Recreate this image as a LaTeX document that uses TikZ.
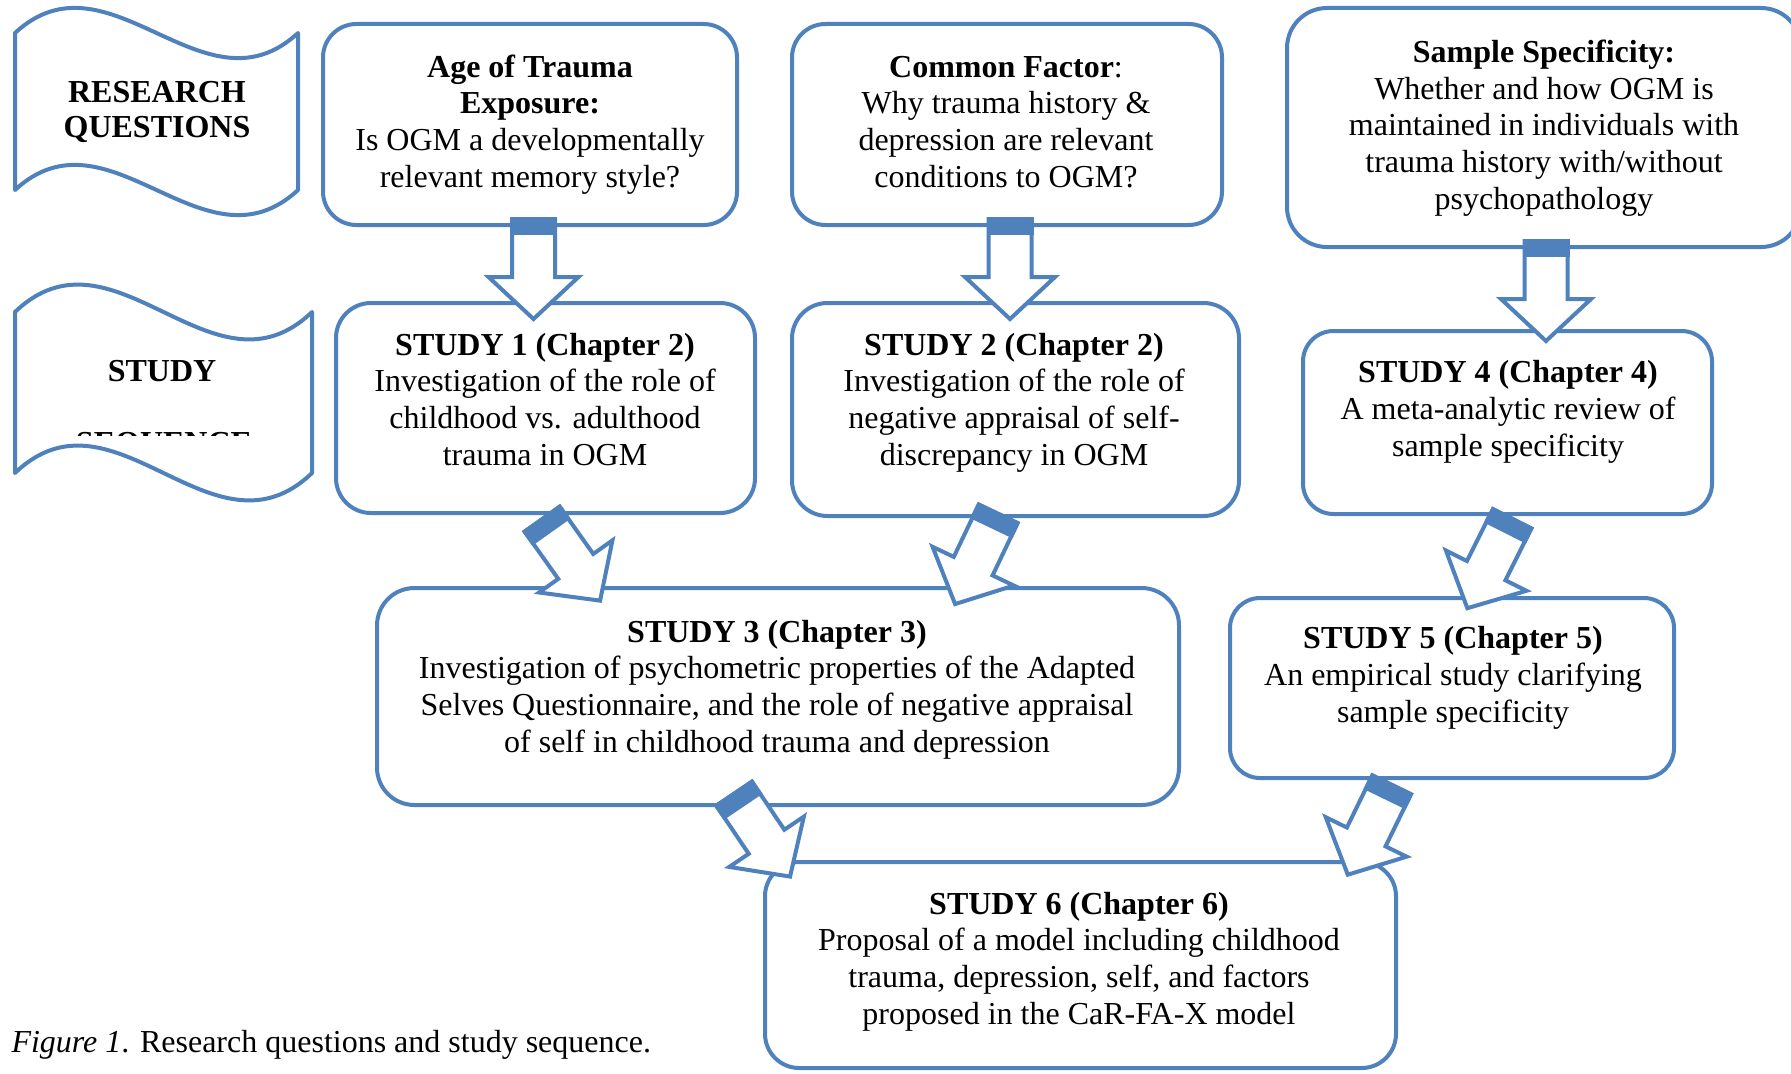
\documentclass[tikz,border=0pt]{standalone}
\usepackage{fontspec}
\setmainfont{Liberation Serif}
\definecolor{wblue}{RGB}{79,129,189}
\tikzset{
  box/.style n args={3}{draw=wblue, line width=1.6pt, fill=white, rounded corners=#3,
    minimum width=#1, minimum height=#2, inner sep=0pt},
  txt/.style={anchor=base, align=center, inner sep=0pt, font=\fontsize{12.8}{14.65}\selectfont},
  wave/.style={draw=wblue, line width=1.6pt, line join=round, fill=white},
  blockarrow/.pic={
    \draw[draw=wblue, line width=1.6pt, fill=white, line join=miter]
      (2,-21.5) -- (60,-21.5) -- (60,-45) -- (102,0) -- (60,45) -- (60,21.5) -- (2,21.5) -- cycle;
    \fill[wblue] (0,-23.5) rectangle (18,23.5);
  }
}
\begin{document}
\begin{tikzpicture}[x=0.4pt, y=-0.4pt]
\clip (0,0) rectangle (1791,1073);
\fill[white] (0,0) rectangle (1791,1073);

% wave labels
\draw[wave] (15,33) .. controls (109,-54) and (204,120) .. (298,33) -- (298,190)
  .. controls (204,277) and (109,103) .. (15,190) -- cycle;
\draw[wave] (15,312) .. controls (114,217) and (213,407) .. (312,312) -- (312,473)
  .. controls (213,568) and (114,378) .. (15,473) -- cycle;

% boxes
\node[box={165.6pt}{80.4pt}{13.4pt}] (A) at (530,124.5) {};
\node[box={172pt}{80.4pt}{13.4pt}] (B) at (1007,124.5) {};
\node[box={205.6pt}{95.6pt}{16pt}] (C) at (1544,127.5) {};
\node[box={167.6pt}{84pt}{14pt}] (S1) at (545.5,408) {};
\node[box={178.8pt}{85.2pt}{14.2pt}] (S2) at (1015.5,409.5) {};
\node[box={163.6pt}{73.2pt}{12.2pt}] (S4) at (1507.5,422.5) {};
\node[box={320.8pt}{86.8pt}{15pt}] (S3) at (778,696.5) {};
\node[box={177.6pt}{72pt}{12pt}] (S5) at (1452,688) {};
\node[box={252.4pt}{82.4pt}{13.7pt}] (S6) at (1080.5,965) {};

% connector tails
\coordinate (t1) at (533.5,217);
\coordinate (t2) at (1010,217);
\coordinate (t3) at (1546,239);
\coordinate (t4) at (541,517.5);
\coordinate (t5) at (999,512);
\coordinate (t6) at (1513,517);
\coordinate (t7) at (733,792);
\coordinate (t8) at (1392.5,783);

% block arrows
\pic[rotate=-90] at (t1) {blockarrow};
\pic[rotate=-90] at (t2) {blockarrow};
\pic[rotate=-90] at (t3) {blockarrow};
\pic[rotate=-54.6] at (t4) {blockarrow};
\pic[rotate=-115.5] at (t5) {blockarrow};
\pic[rotate=-116.6] at (t6) {blockarrow};
\pic[rotate=-56] at (t7) {blockarrow};
\pic[rotate=-116] at (t8) {blockarrow};

% texts (base anchor = baseline of last line)
\node[txt, font=\fontsize{12.8}{14}\selectfont\bfseries] (rq) at (157,137) {RESEARCH\\QUESTIONS};
\node[txt, font=\fontsize{12.8}{14}\selectfont\bfseries] (sq) at (162,381) {STUDY};
\begin{scope}
  \clip (40,380) rectangle (290,435);
  \node[txt, font=\fontsize{12.8}{14}\selectfont\bfseries] (sq2) at (164,453) {SEQUENCE};
\end{scope}

\node[txt] (tA) at (530,187) {\textbf{Age of Trauma}\\\textbf{Exposure:}\\Is OGM a developmentally\\relevant memory style?};
\node[txt] (tB) at (1006,187) {\textbf{Common Factor}:\\Why trauma history \&\\depression are relevant\\conditions to OGM?};
\node[txt] (tC) at (1544,209) {\textbf{Sample Specificity:}\\Whether and how OGM is\\maintained in individuals with\\trauma history with/without\\psychopathology};
\node[txt] (tS1) at (545,465) {\textbf{STUDY 1 (Chapter 2)}\\Investigation of the role of\\childhood vs. adulthood\\trauma in OGM};
\node[txt] (tS2) at (1014,465) {\textbf{STUDY 2 (Chapter 2)}\\Investigation of the role of\\negative appraisal of self-\\discrepancy in OGM};
\node[txt] (tS4) at (1508,456) {\textbf{STUDY 4 (Chapter 4)}\\A meta-analytic review of\\sample specificity};
\node[txt] (tS3) at (777,752) {\textbf{STUDY 3 (Chapter 3)}\\Investigation of psychometric properties of the Adapted\\Selves Questionnaire, and the role of negative appraisal\\of self in childhood trauma and depression};
\node[txt] (tS5) at (1453,722) {\textbf{STUDY 5 (Chapter 5)}\\An empirical study clarifying\\sample specificity};
\node[txt] (tS6) at (1079,1024) {\textbf{STUDY 6 (Chapter 6)}\\Proposal of a model including childhood\\trauma, depression, self, and factors\\proposed in the CaR-FA-X model};

\node[txt, anchor=base west] (cap) at (11,1052) {\textit{Figure 1}. Research questions and study sequence.};
\end{tikzpicture}
\end{document}
